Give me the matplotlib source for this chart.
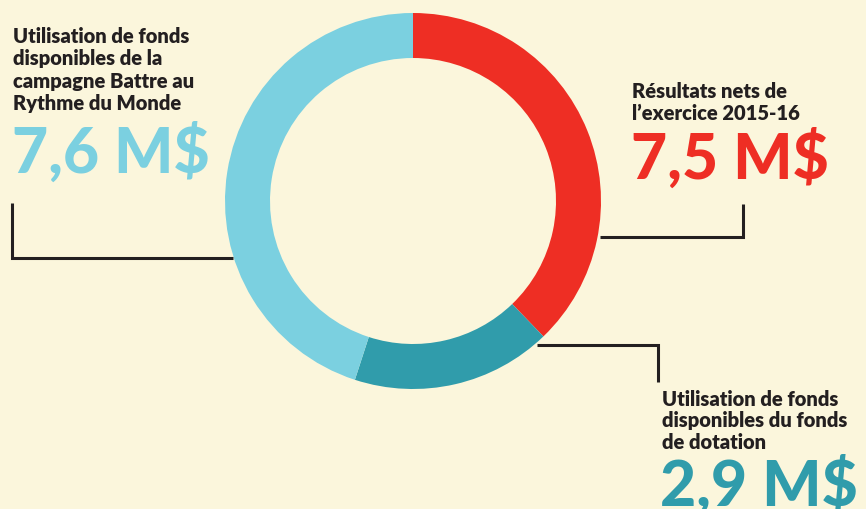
import matplotlib
matplotlib.use("Agg")
import matplotlib.pyplot as plt

# ---- data ----
categories = [
    "Résultats nets de\nl’exercice 2015-16",
    "Utilisation de fonds\ndisponibles du fonds\nde dotation",
    "Utilisation de fonds\ndisponibles de la\ncampagne Battre au\nRythme du Monde",
]
amounts_label = ["7,5 M$", "2,9 M$", "7,6 M$"]
amounts = [7.5, 2.9, 7.6]               # M$ as printed
arc_shares = [37.8, 17.2, 45.0]         # share of the ring as drawn (%)
colors = ["#EE2E24", "#309CAB", "#7BD0E0"]

BG = "#FBF6DC"
INK = "#231F20"
W, H = 866, 510

fig = plt.figure(figsize=(W / 100, H / 100), dpi=100, facecolor=BG)
ax = fig.add_axes([0, 0, 1, 1])
ax.set_facecolor(BG)


def Y(py):
    return H - py


ax.pie(arc_shares, colors=colors, startangle=90, counterclock=False,
       center=(413, Y(202)), radius=188,
       wedgeprops=dict(width=45, edgecolor="none", linewidth=0))
ax.set_xlim(0, W)
ax.set_ylim(0, H)
ax.set_aspect("equal")
ax.axis("off")

FONT = "Lato"
small = dict(family=FONT, fontweight="heavy", fontsize=14.5, color=INK, va="baseline", ha="left")
big = dict(family=FONT, fontweight="black", fontsize=45, va="baseline", ha="left")

# left label (light blue)
for i, line in enumerate(categories[2].split("\n")):
    ax.text(13, Y(43 + i * 22.3), line, **small)
ax.text(12, Y(173), amounts_label[2], color=colors[2], **big)

# right label (red)
for i, line in enumerate(categories[0].split("\n")):
    ax.text(632, Y(97.7 + i * 22.3), line, **small)
ax.text(631, Y(179), amounts_label[0], color=colors[0], **big)

# bottom-right label (teal)
for i, line in enumerate(categories[1].split("\n")):
    ax.text(662, Y(406 + i * 21.5), line, **small)
ax.text(660, Y(506), amounts_label[1], color=colors[1], **big)

# leader lines
lk = dict(color=INK, lw=2.2, solid_capstyle="butt", solid_joinstyle="miter")
ax.plot([12, 12, 233], [Y(204), Y(259), Y(259)], **lk)
ax.plot([600, 743, 743], [Y(238), Y(238), Y(205)], **lk)
ax.plot([537, 658, 658], [Y(345.7), Y(345.7), Y(383)], **lk)

fig.savefig("out.png", dpi=100, facecolor=BG)
